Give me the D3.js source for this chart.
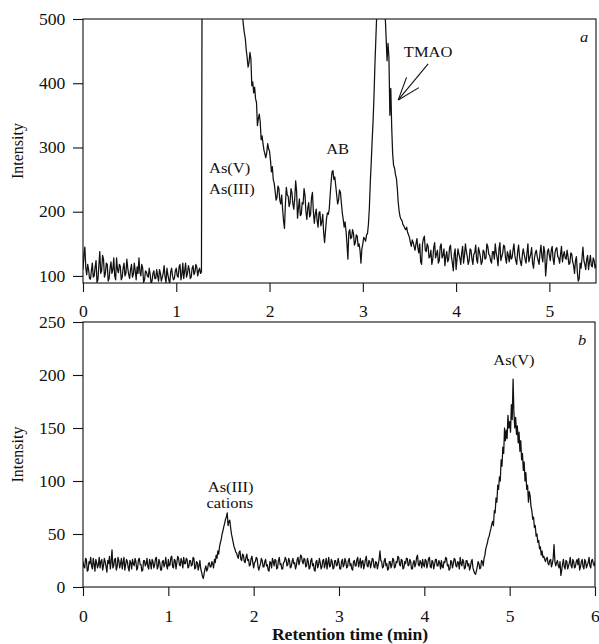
<!DOCTYPE html>
<html>
<head>
<meta charset="utf-8">
<script src="https://cdn.jsdelivr.net/npm/d3@7"></script>
<style>
  body { margin: 0; background: #fff; }
  svg { display: block; }
</style>
</head>
<body>
<div id="chart"></div>
<script>
// sampling step (min) of the two traces
const topStep = 0.01;
const botStep = 0.01;

// panel a: intensity every 0.01 min from 0 to 5.5
const topIntensity = [
  110, 132, 145, 112, 102, 118, 110, 96, 95, 108, 120, 98, 100, 114, 124, 90, 94, 116, 138, 104,
  108, 132, 126, 98, 104, 120, 118, 92, 96, 112, 122, 104, 110, 128, 100, 94, 128, 110, 105, 118,
  115, 94, 98, 112, 120, 100, 104, 126, 112, 102, 96, 110, 118, 98, 102, 120, 108, 94, 114, 104,
  128, 106, 100, 118, 112, 90, 94, 108, 106, 100, 98, 112, 102, 88, 92, 104, 108, 96, 96, 110,
  100, 92, 110, 104, 92, 98, 104, 116, 98, 90, 112, 102, 94, 88, 106, 112, 100, 94, 96, 108,
  112, 100, 98, 114, 118, 94, 102, 120, 96, 108, 120, 98, 104, 116, 110, 96, 98, 112, 116, 102,
  106, 118, 114, 100, 108, 112, 104, 106, 800, 900, 950, 1000, 1000, 1000, 1000, 1000, 1000, 1000, 1000, 1000,
  1000, 1000, 1000, 1000, 1000, 1000, 1000, 1000, 1000, 1000, 980, 970, 950, 930, 900, 880, 850, 820, 780, 750,
  720, 690, 660, 635, 610, 590, 570, 555, 540, 528, 515, 505, 490, 478, 470, 452, 440, 425, 432, 448,
  438, 396, 402, 385, 394, 376, 370, 334, 345, 352, 340, 312, 318, 306, 296, 290, 284, 292, 306, 298,
  294, 280, 262, 270, 250, 244, 232, 218, 222, 240, 236, 218, 212, 226, 204, 186, 174, 212, 238, 226,
  224, 208, 214, 236, 230, 212, 204, 220, 248, 232, 190, 206, 220, 194, 196, 214, 212, 236, 226, 200,
  188, 206, 214, 192, 196, 222, 230, 200, 182, 196, 204, 186, 176, 198, 200, 178, 184, 196, 168, 152,
  170, 188, 198, 196, 204, 226, 246, 262, 264, 250, 254, 240, 226, 212, 218, 234, 230, 214, 198, 188,
  176, 184, 170, 150, 126, 168, 172, 158, 160, 172, 166, 148, 152, 164, 162, 146, 150, 140, 120, 142,
  150, 160, 158, 154, 164, 166, 180, 205, 245, 276, 310, 341, 380, 430, 470, 510, 560, 620, 700, 760,
  800, 740, 650, 570, 505, 470, 435, 462, 440, 350, 392, 330, 290, 272, 268, 258, 252, 236, 214, 200,
  192, 188, 186, 180, 178, 174, 172, 176, 168, 164, 160, 152, 146, 156, 152, 146, 140, 150, 158, 144,
  136, 150, 122, 118, 150, 158, 162, 140, 138, 150, 146, 128, 130, 140, 118, 126, 144, 152, 128, 134,
  140, 120, 124, 146, 150, 128, 132, 142, 116, 130, 138, 122, 126, 144, 148, 130, 120, 108, 134, 142,
  110, 126, 142, 134, 128, 118, 136, 146, 120, 132, 150, 138, 130, 118, 124, 142, 140, 126, 118, 134,
  136, 148, 126, 120, 144, 138, 130, 118, 122, 140, 138, 126, 128, 150, 146, 134, 132, 124, 120, 138,
  138, 126, 150, 136, 128, 116, 142, 152, 124, 130, 136, 148, 146, 128, 120, 138, 132, 122, 140, 126,
  128, 140, 150, 132, 124, 118, 138, 148, 130, 122, 116, 132, 142, 134, 126, 120, 136, 150, 122, 128,
  134, 144, 120, 112, 128, 136, 140, 130, 124, 118, 136, 148, 130, 122, 146, 138, 100, 118, 138, 142,
  132, 124, 140, 146, 126, 118, 136, 142, 144, 130, 128, 120, 134, 146, 122, 132, 138, 128, 126, 140,
  130, 118, 120, 136, 134, 122, 116, 104, 124, 130, 106, 92, 96, 120, 112, 128, 145, 124, 118, 110,
  126, 132, 110, 122, 132, 116, 114, 128, 124, 112, 118
];

// panel b: intensity every 0.01 min from 0 to 6
const botIntensity = [
  24, 19, 18, 27, 26, 15, 16, 24, 22, 28, 20, 17, 27, 22, 15, 26, 23, 18, 21, 28,
  18, 24, 26, 16, 20, 27, 24, 19, 14, 25, 22, 29, 17, 24, 35, 18, 20, 26, 27, 16,
  19, 28, 25, 18, 22, 27, 17, 23, 28, 16, 21, 26, 24, 18, 15, 25, 23, 17, 26, 22,
  20, 27, 24, 16, 18, 26, 27, 21, 21, 15, 16, 25, 25, 20, 22, 27, 19, 17, 26, 23,
  17, 26, 24, 18, 21, 27, 28, 17, 19, 26, 23, 16, 16, 24, 25, 19, 22, 28, 20, 17,
  26, 20, 21, 28, 29, 19, 18, 26, 25, 17, 23, 29, 27, 21, 20, 27, 24, 18, 28, 22,
  22, 27, 26, 18, 19, 25, 25, 20, 21, 28, 27, 17, 18, 24, 23, 16, 20, 25, 17, 14,
  10, 8, 13, 17, 20, 15, 17, 22, 23, 19, 19, 24, 22, 18, 26, 23, 30, 27, 34, 31,
  38, 42, 45, 50, 53, 57, 60, 64, 66, 70, 58, 62, 63, 56, 50, 46, 42, 38, 36, 33,
  32, 29, 27, 33, 34, 26, 25, 31, 30, 24, 23, 28, 31, 25, 26, 20, 21, 27, 29, 23,
  18, 23, 24, 28, 27, 20, 16, 19, 22, 27, 25, 19, 19, 24, 26, 20, 21, 16, 15, 24,
  23, 18, 27, 24, 20, 26, 25, 17, 18, 25, 28, 21, 22, 17, 17, 23, 24, 28, 26, 20,
  21, 27, 25, 18, 19, 24, 27, 22, 23, 17, 20, 26, 28, 21, 24, 30, 29, 24, 22, 27,
  26, 19, 20, 27, 24, 17, 18, 25, 27, 20, 22, 16, 15, 24, 25, 18, 21, 27, 23, 17,
  19, 25, 26, 18, 22, 27, 17, 23, 28, 19, 20, 26, 24, 17, 18, 25, 25, 20, 21, 27,
  23, 17, 17, 24, 26, 19, 21, 27, 24, 18, 19, 25, 27, 20, 22, 17, 16, 24, 25, 20,
  20, 26, 28, 19, 23, 27, 18, 24, 25, 17, 21, 26, 29, 20, 19, 25, 24, 18, 22, 27,
  26, 19, 18, 24, 23, 17, 21, 26, 34, 25, 24, 18, 19, 25, 27, 20, 22, 16, 17, 24,
  24, 18, 21, 27, 26, 18, 19, 24, 23, 29, 28, 21, 20, 26, 25, 17, 18, 24, 22, 27,
  27, 20, 21, 26, 24, 17, 17, 23, 25, 19, 22, 28, 30, 21, 20, 25, 23, 18, 26, 21,
  19, 26, 25, 18, 22, 27, 28, 19, 18, 25, 24, 17, 21, 26, 26, 20, 20, 25, 23, 17,
  25, 19, 18, 24, 23, 28, 27, 20, 21, 16, 17, 25, 24, 18, 22, 27, 26, 20, 19, 24,
  23, 17, 28, 22, 20, 26, 24, 17, 18, 25, 25, 20, 22, 16, 19, 24, 26, 18, 15, 13,
  12, 15, 19, 24, 22, 17, 18, 25, 24, 20, 27, 30, 36, 39, 42, 46, 48, 52, 55, 59,
  62, 58, 72, 70, 84, 80, 96, 92, 104, 100, 120, 114, 132, 126, 150, 138, 148, 140, 162, 150,
  156, 146, 172, 158, 196, 164, 150, 160, 144, 152, 136, 146, 128, 138, 120, 126, 110, 118, 100, 108,
  92, 96, 80, 90, 86, 76, 72, 64, 66, 56, 58, 48, 50, 42, 44, 36, 38, 30, 34, 28,
  29, 26, 24, 27, 28, 22, 21, 25, 26, 19, 22, 27, 40, 24, 20, 23, 25, 20, 18, 24,
  11, 16, 22, 26, 19, 17, 25, 24, 17, 20, 23, 28, 20, 18, 26, 24, 18, 19, 24, 26,
  21, 27, 16, 19, 24, 26, 19, 17, 26, 24, 18, 21, 23, 28, 20, 18, 25, 26, 22, 20,
  24
];

const topTicksX = [0, 1, 2, 3, 4, 5];
const topTicksY = [100, 200, 300, 400, 500];
const botTicksX = [0, 1, 2, 3, 4, 5, 6];
const botTicksY = [0, 50, 100, 150, 200, 250];

const width = 599, height = 644;
const ink = "#111";
const serif = "'Liberation Serif', 'Times New Roman', serif";
const sx = 1.1; // the scan is a little wide

const svg = d3.select("#chart").append("svg")
  .attr("width", width)
  .attr("height", height)
  .style("font-family", serif);

const xA = d3.scaleLinear().domain([0, 5.5]).range([83, 596]);
const yA = d3.scaleLinear().domain([89, 500]).range([283, 19]);
const xB = d3.scaleLinear().domain([0, 6]).range([83, 595]);
const yB = d3.scaleLinear().domain([0, 250]).range([587, 322]);

function drawPanel(id, x, y, values, step, ticksX, ticksY, xPad, xFont) {
  const [x0, x1] = x.range();
  const [yb, yt] = y.range();

  svg.append("clipPath").attr("id", "clip-" + id)
    .append("rect")
    .attr("x", x0).attr("y", yt)
    .attr("width", x1 - x0).attr("height", yb - yt);

  const line = d3.line()
    .x((d, i) => x(i * step))
    .y(d => y(d));

  svg.append("path")
    .datum(values)
    .attr("clip-path", `url(#clip-${id})`)
    .attr("fill", "none")
    .attr("stroke", ink)
    .attr("stroke-width", 1.25)
    .attr("stroke-linejoin", "round")
    .attr("d", line);

  // frame
  svg.append("rect")
    .attr("x", x0).attr("y", yt)
    .attr("width", x1 - x0).attr("height", yb - yt)
    .attr("fill", "none")
    .attr("stroke", ink)
    .attr("stroke-width", 1.1);

  const gx = svg.append("g")
    .attr("transform", `translate(0,${yb})`)
    .call(d3.axisBottom(x).tickValues(ticksX).tickSize(9).tickSizeOuter(0)
      .tickPadding(xPad).tickFormat(d3.format("d")));
  gx.select(".domain").remove();
  gx.attr("font-family", null).attr("font-size", xFont);
  gx.selectAll("line").attr("stroke", ink).attr("stroke-width", 1.1);
  gx.selectAll("text").attr("fill", ink).attr("transform", `scale(${sx},1)`);

  const gy = svg.append("g")
    .attr("transform", `translate(${x0},0)`)
    .call(d3.axisLeft(y).tickValues(ticksY).tickSize(10).tickSizeOuter(0)
      .tickPadding(6).tickFormat(d3.format("d")));
  gy.select(".domain").remove();
  gy.attr("font-family", null).attr("font-size", 16);
  gy.selectAll("line").attr("stroke", ink).attr("stroke-width", 1.1);
  gy.selectAll("text").attr("fill", ink).attr("transform", `scale(${sx},1)`);

  svg.append("text")
    .attr("transform", `translate(23,${(yt + yb) / 2}) rotate(-90)`)
    .attr("text-anchor", "middle")
    .attr("font-size", 16)
    .attr("fill", ink)
    .text("Intensity");
}

function note(px, py, str, opts = {}) {
  svg.append("text")
    .attr("transform", `translate(${px},${py}) scale(${sx},1)`)
    .attr("text-anchor", opts.anchor || "middle")
    .attr("font-size", opts.size || 15)
    .attr("font-style", opts.italic ? "italic" : null)
    .attr("font-weight", opts.bold ? "bold" : null)
    .attr("fill", ink)
    .text(str);
}

drawPanel("a", xA, yA, topIntensity, topStep, topTicksX, topTicksY, 14, 16);
drawPanel("b", xB, yB, botIntensity, botStep, botTicksX, botTicksY, 15, 16);

// panel a labels
note(209, 173, "As(V)", { anchor: "start" });
note(209, 194, "As(III)", { anchor: "start" });
note(xA(2.73), 154, "AB");
note(xA(3.7), 57, "TMAO");
note(580, 42, "a", { anchor: "start", italic: true });

// TMAO arrow, tail and tip in data units
const tail = [xA(3.70), yA(430)];
const tip = [xA(3.38), yA(374)];
const ang = Math.atan2(tail[1] - tip[1], tail[0] - tip[0]);
const barb = 24, spread = 0.34;
const arrow = svg.append("g").attr("stroke", ink).attr("stroke-width", 1.1).attr("fill", "none");
arrow.append("line").attr("x1", tail[0]).attr("y1", tail[1]).attr("x2", tip[0]).attr("y2", tip[1]);
[-spread, spread].forEach(s => {
  arrow.append("line")
    .attr("x1", tip[0]).attr("y1", tip[1])
    .attr("x2", tip[0] + barb * Math.cos(ang + s))
    .attr("y2", tip[1] + barb * Math.sin(ang + s));
});

// panel b labels
note(xB(1.73), 492, "As(III)");
note(xB(1.72), 508, "cations");
note(xB(5.05), 365, "As(V)");
note(578, 345, "b", { anchor: "start", italic: true });

note(350, 640, "Retention time (min)", { bold: true, size: 16 });
</script>
</body>
</html>
